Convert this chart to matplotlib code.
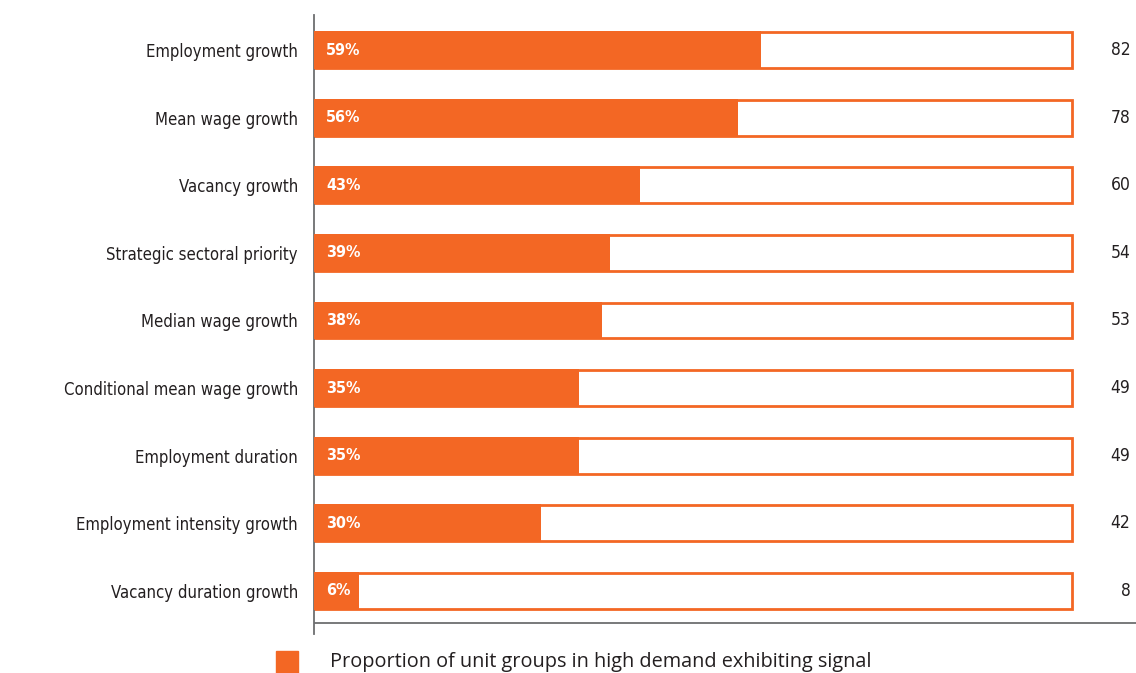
import matplotlib
matplotlib.use("Agg")
import matplotlib.pyplot as plt

categories = ["Employment growth", "Mean wage growth", "Vacancy growth",
              "Strategic sectoral priority", "Median wage growth",
              "Conditional mean wage growth", "Employment duration",
              "Employment intensity growth", "Vacancy duration growth"]
percent = [59, 56, 43, 39, 38, 35, 35, 30, 6]
counts = [82, 78, 60, 54, 53, 49, 49, 42, 8]
legend_label = "Proportion of unit groups in high demand exhibiting signal"

ORANGE = "#F36724"
TEXT = "#231F20"

W, H = 1136, 673
fig = plt.figure(figsize=(W / 100, H / 100), dpi=100)
ax = fig.add_axes([314 / W, 1 - 634 / H, 1 - 314 / W, (634 - 15) / H])

y = list(range(len(categories)))
ax.barh(y, [100] * len(y), height=0.53, left=0, color="white",
        edgecolor=ORANGE, linewidth=2, zorder=2)
ax.barh(y, percent, height=0.53 + 0.03, left=0, color=ORANGE,
        edgecolor="none", zorder=3)

for yi, p, c in zip(y, percent, counts):
    ax.text(1.6, yi, f"{p}%", color="white", fontweight="bold",
            fontsize=11.5, va="center", ha="left", fontstretch="condensed", zorder=4)
    ax.text(107.7, yi, str(c), color=TEXT, fontsize=12.5, va="center",
            ha="right", fontstretch="condensed")

ax.set_xlim(0, 100 * (W - 314) / (1072 - 314))
ax.set_ylim(8.636, -0.5176)
ax.set_yticks(y)
ax.set_yticklabels(categories, fontsize=12.0, color=TEXT, fontstretch="condensed")
ax.tick_params(axis="y", length=0, pad=11.5)
ax.set_xticks([])
for s in ["top", "right", "bottom"]:
    ax.spines[s].set_visible(False)
ax.spines["left"].set_color("#6d6e70")
ax.spines["left"].set_linewidth(1.3)
ax.axhline(8.473, color="#6d6e70", linewidth=1.3, zorder=1)

fig.patches.append(plt.Rectangle((276 / W, 0), 22 / W, 22 / H,
                                 transform=fig.transFigure, color=ORANGE))
fig.text(330 / W, 1 - 662 / H, legend_label, fontsize=14.3, color=TEXT,
         va="center", ha="left", family=["Open Sans", "DejaVu Sans"])

fig.savefig("out.png", dpi=100, facecolor="white")
